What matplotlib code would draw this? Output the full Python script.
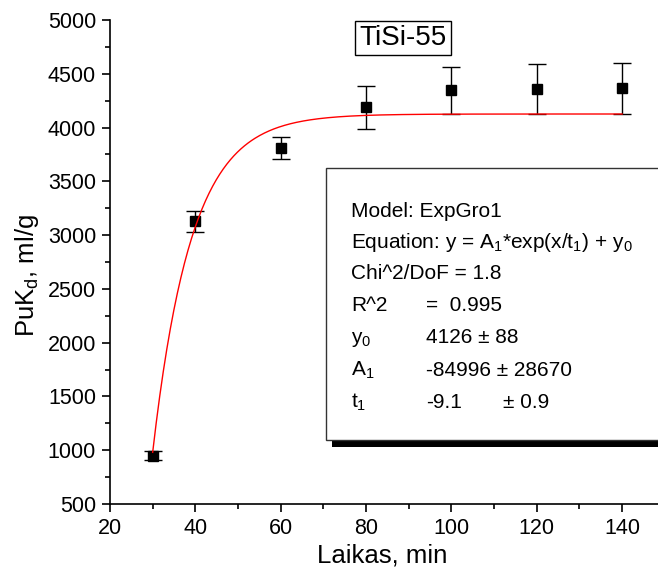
import numpy as np
import matplotlib
matplotlib.use("Agg")
import matplotlib.pyplot as plt
from matplotlib.patches import Rectangle

plt.rcParams['font.family'] = ['Liberation Sans', 'DejaVu Sans']
plt.rcParams['mathtext.fontset'] = 'custom'
plt.rcParams['mathtext.rm'] = 'Liberation Sans'
plt.rcParams['mathtext.it'] = 'Liberation Sans'

# Data
time_min = [30, 40, 60, 80, 100, 120, 140]
kd_values = [950, 3130, 3810, 4190, 4345, 4358, 4365]
kd_errors = [40, 98, 100, 200, 217, 230, 238]

# Fit parameters (ExpGro1) as printed on the chart
fit_y0 = 4126
fit_A1 = -84996
fit_t1 = -9.1

x_ticks = [20, 40, 60, 80, 100, 120, 140]
y_ticks = [500, 1000, 1500, 2000, 2500, 3000, 3500, 4000, 4500, 5000]

W, H = 658, 569
fig = plt.figure(figsize=(W / 100, H / 100), dpi=100)
ax = fig.add_axes([110 / W, 1 - 504 / H, (W - 110) / W, (504 - 20) / H])

ax.errorbar(time_min, kd_values, yerr=kd_errors, fmt='s', color='black',
            ms=7, elinewidth=1, capsize=6.5, capthick=1, zorder=3)

xf = np.linspace(min(time_min), max(time_min), 400)
ax.plot(xf, fit_A1 * np.exp(xf / fit_t1) + fit_y0, color='red', lw=1, zorder=4)

ax.set_xlim(20, 148.4)
ax.set_ylim(500, 5000)
ax.set_xticks(x_ticks)
ax.set_yticks(y_ticks)
ax.set_xticks(np.arange(30, 150, 20), minor=True)
ax.set_yticks(np.arange(750, 5000, 500), minor=True)
for s in ['top', 'right']:
    ax.spines[s].set_visible(False)
for s in ['left', 'bottom']:
    ax.spines[s].set_linewidth(1.2)
ax.tick_params(which='major', direction='out', length=6, width=1.2, labelsize=15.5, pad=4)
ax.tick_params(which='minor', direction='out', length=3.5, width=1.2)

# Axis labels
fig.text(382 / W, 1 - 562 / H, 'Laikas, min', fontsize=18.5, ha='center', va='baseline')
fig.text(27 / W, 1 - 276 / H, r'PuK$_\mathregular{d}$, ml/g', fontsize=18.5,
         rotation=90, ha='center', va='center')

# Title box
fig.text(403 / W, 1 - 38 / H, 'TiSi-55', fontsize=20, ha='center', va='center',
         bbox=dict(boxstyle='square,pad=0.15', fc='white', ec='black', lw=1))

# Stats box with shadow
bx0, by_top, by_bot = 326, 168, 440
fig.patches.append(Rectangle((332 / W, 1 - 447 / H), 0.6, (447 - 175) / H,
                             transform=fig.transFigure, fc='black', ec='none', zorder=5))
fig.patches.append(Rectangle((bx0 / W, 1 - by_bot / H), 0.6, (by_bot - by_top) / H,
                             transform=fig.transFigure, fc='white', ec='#333333', lw=1, zorder=6))

fs = 15
lx, cx, cx2 = 351, 426, 503
lines = [
    (217, [(lx, 'Model: ExpGro1')]),
    (248, [(lx, r'Equation: y = A$_\mathregular{1}$*exp(x/t$_\mathregular{1}$) + y$_\mathregular{0}$')]),
    (279, [(lx, 'Chi^2/DoF = 1.8')]),
    (311, [(lx, 'R^2'), (cx, '=  0.995')]),
    (343, [(lx, r'y$_\mathregular{0}$'), (cx, '4126 \u00b1 88')]),
    (376, [(lx, r'A$_\mathregular{1}$'), (cx, '-84996 \u00b1 28670')]),
    (408, [(lx, r't$_\mathregular{1}$'), (cx, '-9.1'), (cx2, '\u00b1 0.9')]),
]
for yb, items in lines:
    for xp, t in items:
        fig.text(xp / W, 1 - yb / H, t, fontsize=fs, ha='left', va='baseline', zorder=7)

fig.savefig('out.png', dpi=100)
